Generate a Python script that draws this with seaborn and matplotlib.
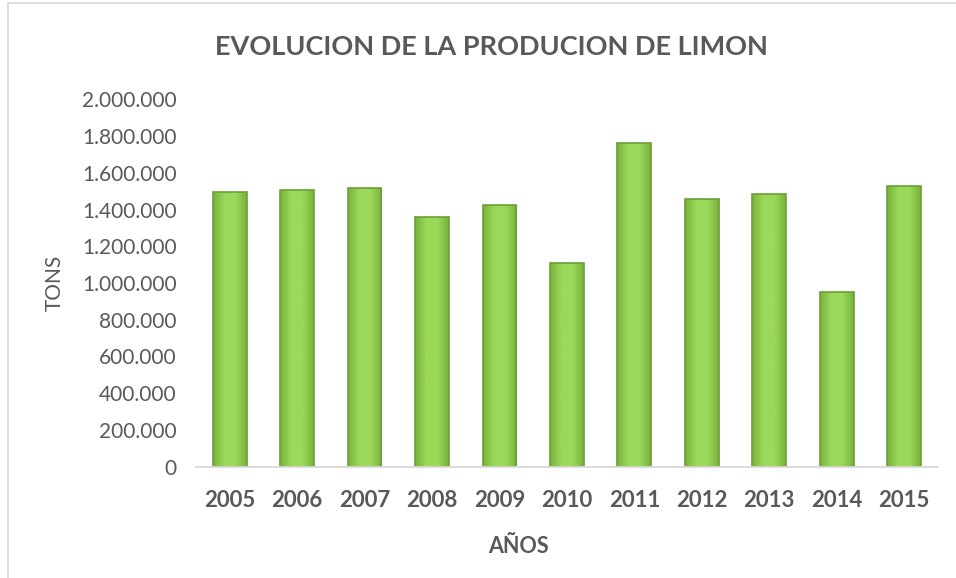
import matplotlib
matplotlib.use("Agg")
import matplotlib.pyplot as plt
import matplotlib.ticker as mticker
from matplotlib.patches import Rectangle
from matplotlib.colors import LinearSegmentedColormap
import numpy as np
import seaborn as sns

# data
years = ["2005", "2006", "2007", "2008", "2009", "2010",
         "2011", "2012", "2013", "2014", "2015"]
tons = [1497000, 1506000, 1517000, 1361000, 1426000, 1109000,
        1760000, 1456000, 1486000, 949000, 1526000]

sns.set_style("white")
plt.rcParams['font.family'] = ['Lato', 'DejaVu Sans']
text_col = "#595959"

fig = plt.figure(figsize=(9.56, 5.78), dpi=100)
ax = fig.add_axes([0.205, 0.1926, 0.776, 0.6356])

sns.barplot(x=years, y=tons, color="#92d050", width=0.5,
            edgecolor="#6b9f38", linewidth=1.2, saturation=1, ax=ax)

# soft bevel-like shading inside each bar
shade = LinearSegmentedColormap.from_list(
    "bevel", ["#78b23c", "#9bd95a", "#9bd95a", "#78b23c"])
grad = np.linspace(0, 1, 64).reshape(1, -1)
for bar in ax.patches:
    bb = bar.get_bbox()
    im = ax.imshow(grad, cmap=shade, aspect="auto", zorder=bar.get_zorder(),
                   extent=[bb.x0, bb.x1, bb.y0, bb.y1])
    im.set_clip_path(bar)
    bar.set_facecolor("none")
    bar.set_zorder(bar.get_zorder() + 0.1)

ax.set_ylim(0, 2000000)
ax.set_xlim(-0.5, len(years) - 0.5)
ax.yaxis.set_major_locator(mticker.MultipleLocator(200000))
ax.yaxis.set_major_formatter(
    mticker.FuncFormatter(lambda v, p: f"{v:,.0f}".replace(",", ".")))

for s in ["top", "right", "left"]:
    ax.spines[s].set_visible(False)
ax.spines["bottom"].set_color("#d9d9d9")
ax.spines["bottom"].set_linewidth(1.3)

ax.tick_params(axis="y", length=0, pad=14, labelsize=15, labelcolor=text_col)
ax.tick_params(axis="x", length=0, pad=17, labelsize=16, labelcolor=text_col)
for lab in ax.get_xticklabels():
    lab.set_fontweight("bold")

ax.set_xlabel("AÑOS", fontsize=15.5, fontweight="bold", color=text_col)
ax.xaxis.set_label_coords(0.434, -0.188)
ax.set_ylabel("TONS", fontsize=15, color=text_col)
ax.yaxis.set_label_coords(-0.177, 0.5)

fig.text(0.514, 0.919, "EVOLUCION DE LA PRODUCION DE LIMON",
         ha="center", va="center", fontsize=19.5, fontweight="bold",
         color=text_col)

# light chart border like the spreadsheet frame
fig.patches.append(Rectangle((8 / 956, -0.05), 1.1, 1.045,
                             transform=fig.transFigure, fill=False,
                             edgecolor="#d9d9d9", linewidth=1.2))

fig.savefig("out.png", dpi=100)
